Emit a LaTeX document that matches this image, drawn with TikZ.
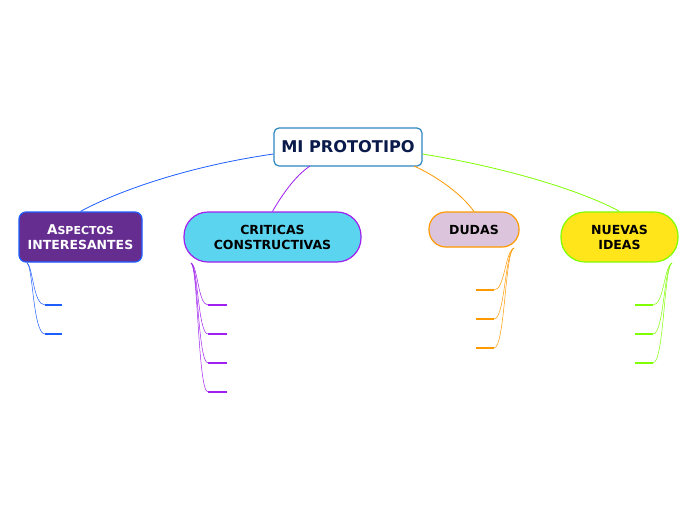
\documentclass[tikz,border=0pt]{standalone}
\usepackage{fontspec}
\setmainfont{DejaVu Sans}
\definecolor{rootb}{HTML}{2E86C1}
\definecolor{roott}{HTML}{0A1A4A}
\definecolor{cblue}{HTML}{1E5EFF}
\definecolor{cpurp}{HTML}{662D91}
\definecolor{cviol}{HTML}{A020F0}
\definecolor{ccyan}{HTML}{5BD5EF}
\definecolor{corange}{HTML}{FF9900}
\definecolor{cmauve}{HTML}{DCC5DC}
\definecolor{cgreen}{HTML}{7FFF00}
\definecolor{cyellow}{HTML}{FFE51A}
\tikzset{
  topic/.style={draw, line width=1.2pt, align=center, font=\bfseries\fontsize{12.5}{15}\selectfont, inner sep=0pt},
  pill/.style={topic, rounded corners=17pt},
  conn/.style={line width=0.8pt},
  sub/.style={line width=0.5pt},
  stub/.style={line width=2pt},
}
\begin{document}
\begin{tikzpicture}[x=1pt,y=-1pt]
\useasboundingbox[fill=white] (0,0) rectangle (696,520);
% root
\node[draw=rootb, fill=white, line width=1.2pt, rounded corners=5pt, minimum width=148pt, minimum height=38pt, inner sep=0pt, text=roott, font=\bfseries\fontsize{16.2}{18}\selectfont] (root) at (348,147) {MI PROTOTIPO};
% topics
\node[topic, draw=cblue, fill=cpurp, text=white, rounded corners=7pt, minimum width=123pt, minimum height=50pt] (asp) at (80.5,237) {{\fontsize{13.5}{15}\selectfont A}{\fontsize{11}{15}\selectfont SPECTOS}\\INTERESANTES};
\node[pill, draw=cviol, fill=ccyan, minimum width=177pt, minimum height=50pt, rounded corners=24pt] (cri) at (272.5,237) {CRITICAS\\CONSTRUCTIVAS};
\node[pill, draw=corange, fill=cmauve, minimum width=90pt, minimum height=35pt] (dud) at (474,229.5) {DUDAS};
\node[pill, draw=cgreen, fill=cyellow, minimum width=117pt, minimum height=50pt, rounded corners=24pt] (nue) at (619.5,237) {NUEVAS\\IDEAS};
% main connectors
\draw[conn, cblue] (root.west |- 0,154) .. controls (190,166) and (120,190) .. (asp.north);
\draw[conn, cviol] (310,166) .. controls (295,176) and (282,195) .. (cri.north);
\draw[conn, corange] (414,166) .. controls (440,178) and (462,195) .. (dud.north);
\draw[conn, cgreen] (root.east |- 0,154) .. controls (520,170) and (590,195) .. (nue.north);
% sub-branch anchors
\coordinate (aS) at (27,263);
\coordinate (cS) at (191,263);
\coordinate (dS) at (514,248);
\coordinate (nS) at (672,263);
% aspectos stubs
\foreach \y/\n in {305/a1,334/a2}{
  \coordinate (\n) at (45,\y);
  \draw[stub, cblue] (\n) -- ++(17,0);
  \draw[sub, cblue] (aS) .. controls (33,266) and (33,\y) .. (\n);
}
% criticas stubs
\foreach \y/\n in {305/c1,334/c2,363/c3,392/c4}{
  \coordinate (\n) at (208,\y);
  \draw[stub, cviol] (\n) -- ++(19,0);
  \draw[sub, cviol] (cS) .. controls (198,266) and (198,\y) .. (\n);
}
% dudas stubs
\foreach \y/\n in {290/d1,319/d2,348/d3}{
  \coordinate (\n) at (494,\y);
  \draw[stub, corange] (\n) -- ++(-18,0);
  \draw[sub, corange] (dS) .. controls (505,251) and (505,\y) .. (\n);
}
% nuevas stubs
\foreach \y/\n in {305/n1,334/n2,363/n3}{
  \coordinate (\n) at (653,\y);
  \draw[stub, cgreen] (\n) -- ++(-18,0);
  \draw[sub, cgreen] (nS) .. controls (664,266) and (664,\y) .. (\n);
}
\end{tikzpicture}
\end{document}
